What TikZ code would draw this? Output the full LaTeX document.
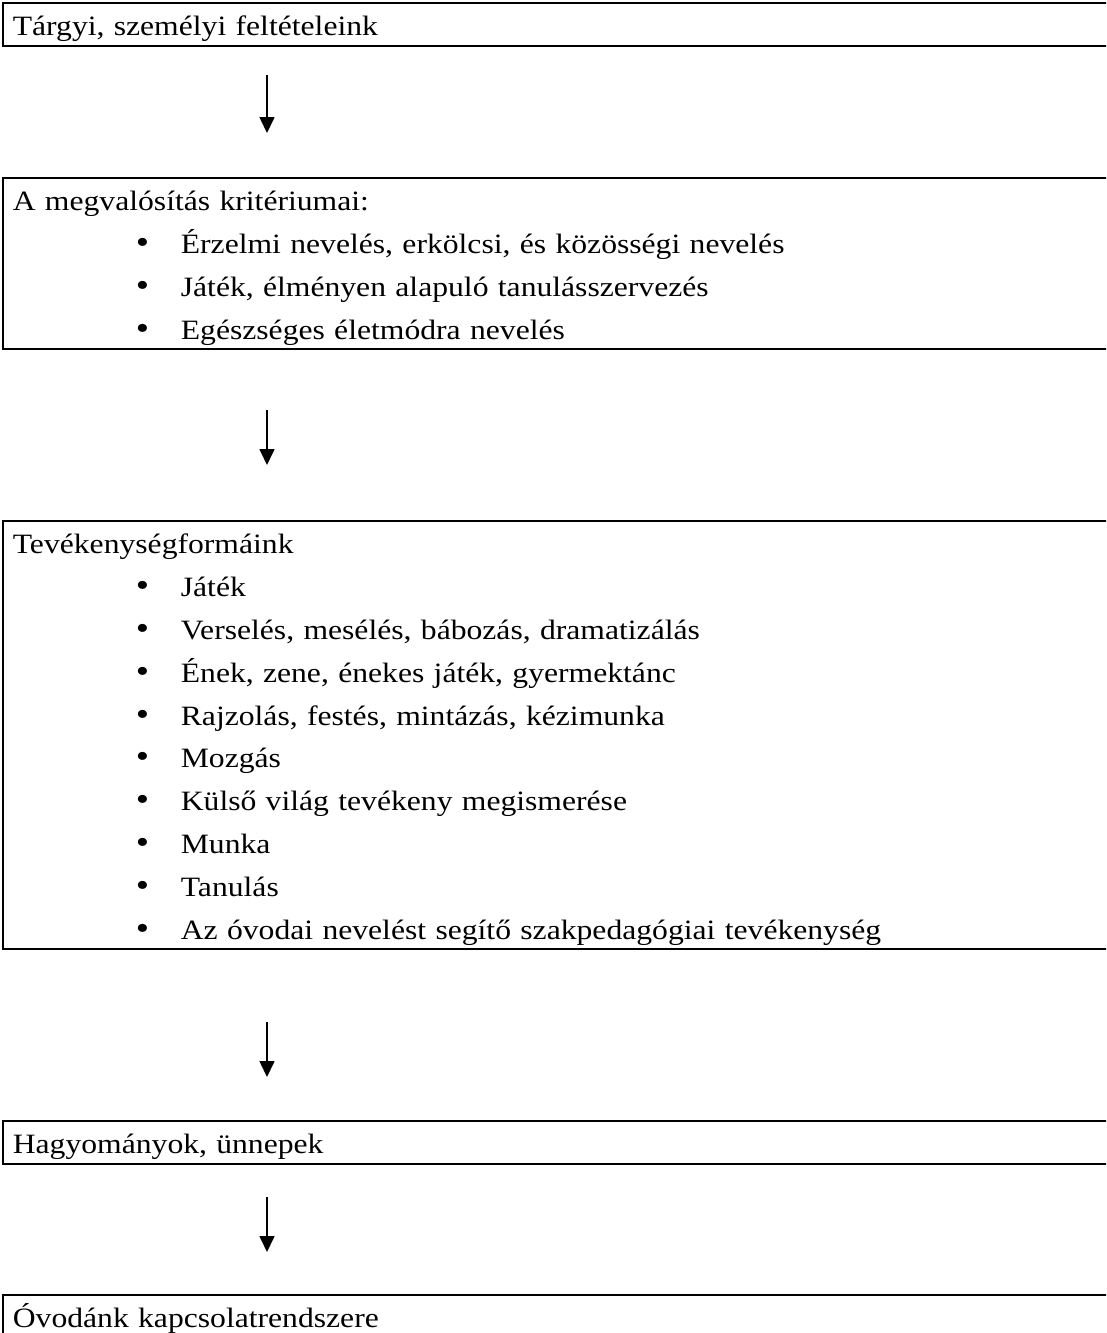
\documentclass[tikz,border=0pt]{standalone}
\usepackage{graphicx}
\usepackage{fontspec}
\setmainfont{Liberation Serif}[FakeStretch=1.13]
\usetikzlibrary{arrows.meta}

\newcommand{\itm}[1]{\\\hspace*{123pt}\makebox[45pt][l]{\scalebox{1.2}{\textbullet}}#1}
\newcommand{\first}{\rule{0pt}{33pt}}
\newcommand{\last}{\rule[-9.8pt]{0pt}{0pt}}

\tikzset{
	stage/.style = {draw, line width=1.7pt, anchor=north west,
		align=left, text width=1170pt, inner xsep=10pt, inner ysep=0pt,
		font=\fontsize{28pt}{42.8pt}\selectfont},
	flow/.style = {line width=1.6pt, -{Triangle[width=15pt,length=16pt]}}
}

\begin{document}
\begin{tikzpicture}[x=1pt, y=-1pt]

\useasboundingbox (0, 0) rectangle (1106, 1333);
\clip (0, 0) rectangle (1106, 1333);

%boxes
\node[stage] (felt) at (2, 2)
	{\first T\'argyi, szem\'elyi felt\'eteleink\last};

\node[stage] (krit) at (2, 177)
	{\first A megval\'os\'it\'as krit\'eriumai:
	\itm{\'Erzelmi nevel\'es, erk\"olcsi, \'es k\"oz\"oss\'egi nevel\'es}
	\itm{J\'at\'ek, \'elm\'enyen alapul\'o tanul\'asszervez\'es}
	\itm{Eg\'eszs\'eges \'eletm\'odra nevel\'es\last}};

\node[stage] (tev) at (2, 520)
	{\first Tev\'ekenys\'egform\'aink
	\itm{J\'at\'ek}
	\itm{Versel\'es, mes\'el\'es, b\'aboz\'as, dramatiz\'al\'as}
	\itm{\'Enek, zene, \'enekes j\'at\'ek, gyermekt\'anc}
	\itm{Rajzol\'as, fest\'es, mint\'az\'as, k\'ezimunka}
	\itm{Mozg\'as}
	\itm{K\"uls\H{o} vil\'ag tev\'ekeny megismer\'ese}
	\itm{Munka}
	\itm{Tanul\'as}
	\itm{Az \'ovodai nevel\'est seg\'it\H{o} szakpedag\'ogiai tev\'ekenys\'eg\last}};

\node[stage] (hagy) at (2, 1120)
	{\first Hagyom\'anyok, \"unnepek\last};

\node[stage] (kapcs) at (2, 1294)
	{\first \'Ovod\'ank kapcsolatrendszere\last};

%arrows start
\coordinate (a1) at (267, 75);
\coordinate (a1e) at (267, 133);
\coordinate (a2) at (267, 410);
\coordinate (a2e) at (267, 465);
\coordinate (a3) at (267, 1022);
\coordinate (a3e) at (267, 1077);
\coordinate (a4) at (267, 1197);
\coordinate (a4e) at (267, 1252);

\draw[flow] (a1) -- (a1e);
\draw[flow] (a2) -- (a2e);
\draw[flow] (a3) -- (a3e);
\draw[flow] (a4) -- (a4e);
%arrows end

\end{tikzpicture}
\end{document}
